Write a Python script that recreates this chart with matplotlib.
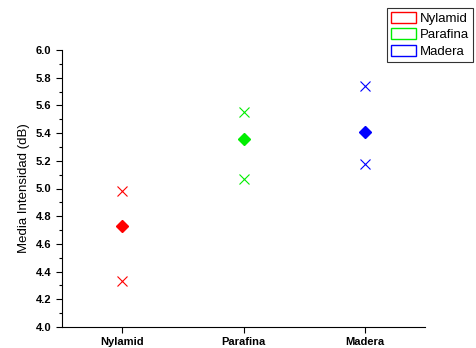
import matplotlib
matplotlib.use("Agg")
import matplotlib.pyplot as plt
from matplotlib.patches import Patch
from matplotlib.ticker import MultipleLocator

plt.rcParams['font.family'] = ['Liberation Sans', 'DejaVu Sans']

categories = ["Nylamid", "Parafina", "Madera"]
colors = ["#ff0000", "#00ee00", "#0000ff"]
means = [4.73, 5.36, 5.41]
upper = [4.98, 5.55, 5.74]
lower = [4.33, 5.07, 5.18]

fig = plt.figure(figsize=(4.77, 3.48), dpi=100)
ax = fig.add_axes([62 / 477, 21 / 348, 363 / 477, 277 / 348])

xs = [1, 2, 3]
for x, m, u, l, c in zip(xs, means, upper, lower, colors):
    ax.plot(x, m, marker="D", color=c, markersize=6.5, linestyle="none")
    ax.plot([x, x], [u, l], marker="x", color=c, markersize=7, markeredgewidth=0.8, linestyle="none")

ax.set_xlim(0.5, 3.5)
ax.set_ylim(4.0, 6.0)
ax.set_xticks(xs)
ax.set_xticklabels(categories, fontweight="bold", fontsize=8)
ax.yaxis.set_major_locator(MultipleLocator(0.2))
ax.yaxis.set_minor_locator(MultipleLocator(0.1))
ax.set_yticklabels([f"{v:.1f}" for v in ax.get_yticks()], fontweight="bold", fontsize=8)
ax.tick_params(direction="out", length=4, width=0.8)
ax.tick_params(which="minor", direction="out", length=2, width=0.8)
ax.spines["top"].set_visible(False)
ax.spines["right"].set_visible(False)
ax.set_ylabel("Media Intensidad (dB)", fontsize=9.5)

handles = [Patch(facecolor="none", edgecolor=c, label=n) for n, c in zip(categories, colors)]
leg = fig.legend(handles=handles, loc="upper left", bbox_to_anchor=(387 / 477, 1 - 8 / 348),
                 fontsize=9.5, frameon=True, fancybox=False, edgecolor="black",
                 handlelength=1.9, handleheight=0.9, borderpad=0.3, labelspacing=0.25,
                 handletextpad=0.3, borderaxespad=0)
leg.get_frame().set_linewidth(0.8)

fig.savefig("out.png", dpi=100)
